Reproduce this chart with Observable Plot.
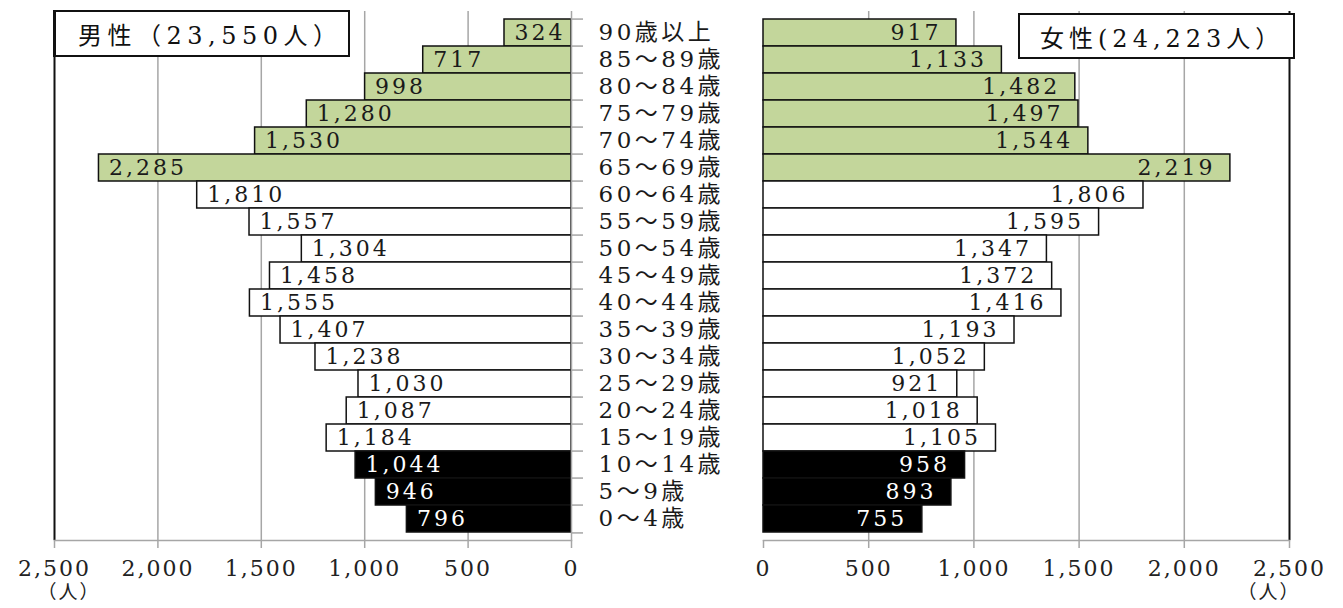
<!DOCTYPE html>
<html><head><meta charset="utf-8">
<script src="https://cdn.jsdelivr.net/npm/d3@7"></script>
<script src="https://cdn.jsdelivr.net/npm/@observablehq/plot@0.6"></script>
<style>
body{margin:0;background:#fff;}
#wrap{position:relative;width:1343px;height:608px;overflow:hidden;font-family:"DejaVu Serif","Noto Sans CJK JP",serif;}
.panel{position:absolute;top:0;}
.legend{position:absolute;background:#fff;border:2px solid #111;box-sizing:border-box;font-size:24px;color:#111;display:flex;align-items:center;white-space:nowrap;}
</style></head>
<body>
<div id="wrap"></div>
<script>
const ages = ["90歳以上","85～89歳","80～84歳","75～79歳","70～74歳","65～69歳","60～64歳","55～59歳","50～54歳","45～49歳","40～44歳","35～39歳","30～34歳","25～29歳","20～24歳","15～19歳","10～14歳","5～9歳","0～4歳"];
const male = [324,717,998,1280,1530,2285,1810,1557,1304,1458,1555,1407,1238,1030,1087,1184,1044,946,796];
const female = [917,1133,1482,1497,1544,2219,1806,1595,1347,1372,1416,1193,1052,921,1018,1105,958,893,755];
const ageGroup = ["老年人口","老年人口","老年人口","老年人口","老年人口","老年人口",
  "生産年齢人口","生産年齢人口","生産年齢人口","生産年齢人口","生産年齢人口","生産年齢人口","生産年齢人口","生産年齢人口","生産年齢人口","生産年齢人口",
  "年少人口","年少人口","年少人口"];
const groupNames = ["老年人口","生産年齢人口","年少人口"];
const groupColors = ["#c3d69b","#ffffff","#000000"];
const xTicks = [0,500,1000,1500,2000,2500];
const legendMale = "男性（23,550人）";
const legendFemale = "女性(24,223人）";
const unitLabel = "（人）";

const fmt = d3.format(",");
const TOP = 11, BOTTOM = 540, H = 608;
const bw = (BOTTOM - TOP) / ages.length;
const grid = "#a6a6a6";

function panel(values, side) {
  const rows = ages.map((age, i) => ({age, value: values[i], group: ageGroup[i]}));
  const left = side === "left";
  const width = left ? 740 : 603;
  const marks = [
    Plot.ruleX(xTicks.filter(d => d > 0 && d < 2500), {stroke: grid, strokeWidth: 1.5}),
    Plot.ruleX([2500], {stroke: "#111", strokeWidth: 2}),
    Plot.frame({anchor: "bottom", stroke: grid, strokeWidth: 1.5}),
    Plot.barX(rows, {x1: 0, x2: "value", y: "age", fill: "group", stroke: "#111", strokeWidth: 1.5}),
    Plot.text(rows.filter(d => d.group !== "年少人口"), {x: "value", y: "age", text: d => fmt(d.value),
      textAnchor: left ? "start" : "end", dx: left ? 10 : -15, fill: "#1a1a1a", fontSize: 22}),
    Plot.text(rows.filter(d => d.group === "年少人口"), {x: "value", y: "age", text: d => fmt(d.value),
      textAnchor: left ? "start" : "end", dx: left ? 10 : -15, fill: "#ffffff", fontSize: 22}),
    Plot.axisX({ticks: xTicks, tickFormat: fmt, tickSize: 8, tickPadding: 12, fontSize: 22, stroke: grid, strokeWidth: 1.5, label: null}),
    Plot.text([unitLabel], {frameAnchor: left ? "bottom-left" : "bottom-right", dx: left ? -17 : 11, dy: 58, fontSize: 19, fill: "#222"})
  ];
  if (left) {
    marks.push(
      Plot.ruleX([0], {stroke: grid, strokeWidth: 1.5}),
      Plot.ruleY(ages, {y: d => d, x1: 0, x2: 0, insetRight: -12, dy: -bw / 2, stroke: grid, strokeWidth: 1.5}),
      Plot.ruleY(ages.slice(-1), {y: d => d, x1: 0, x2: 0, insetRight: -12, dy: bw / 2, stroke: grid, strokeWidth: 1.5}),
      Plot.text(ages, {y: d => d, x: 0, textAnchor: "start", dx: 27, fontSize: 23, fill: "#1a1a1a"})
    );
  }
  const svg = Plot.plot({
    width, height: H,
    marginLeft: left ? 54 : 23,
    marginRight: left ? 169 : 54,
    marginTop: TOP, marginBottom: H - BOTTOM,
    x: {domain: [0, 2500], reverse: left, axis: null},
    y: {domain: ages, padding: 0, axis: null},
    color: {domain: groupNames, range: groupColors},
    style: {fontFamily: '"DejaVu Serif","Noto Sans CJK JP",serif', color: "#222", overflow: "visible", background: "transparent"},
    marks
  });
  const isNum = t => /^[\d,]+$/.test(t);
  d3.select(svg).selectAll("text").each(function() {
    const t = this.textContent;
    const inAxis = this.closest('g[aria-label="x-axis tick label"]');
    if (inAxis) this.style.letterSpacing = "2px";
    else if (isNum(t)) this.style.letterSpacing = "3px";
    else if (ages.includes(t)) this.style.letterSpacing = "3.5px";
    else if (t === unitLabel) this.style.letterSpacing = "2px";
  });
  svg.classList.add("panel");
  svg.style.left = (left ? 0 : 740) + "px";
  return svg;
}

const wrap = document.getElementById("wrap");
wrap.appendChild(panel(male, "left"));
wrap.appendChild(panel(female, "right"));

const lm = document.createElement("div");
lm.className = "legend";
Object.assign(lm.style, {left: "53px", top: "10px", width: "297px", height: "47px", borderLeftWidth: "3px", paddingLeft: "22px", letterSpacing: "5.5px"});
lm.textContent = legendMale;
wrap.appendChild(lm);

const lf = document.createElement("div");
lf.className = "legend";
Object.assign(lf.style, {left: "1018px", top: "13px", width: "277px", height: "46px", paddingLeft: "20px", letterSpacing: "5px"});
lf.textContent = legendFemale;
wrap.appendChild(lf);
</script>
</body></html>
